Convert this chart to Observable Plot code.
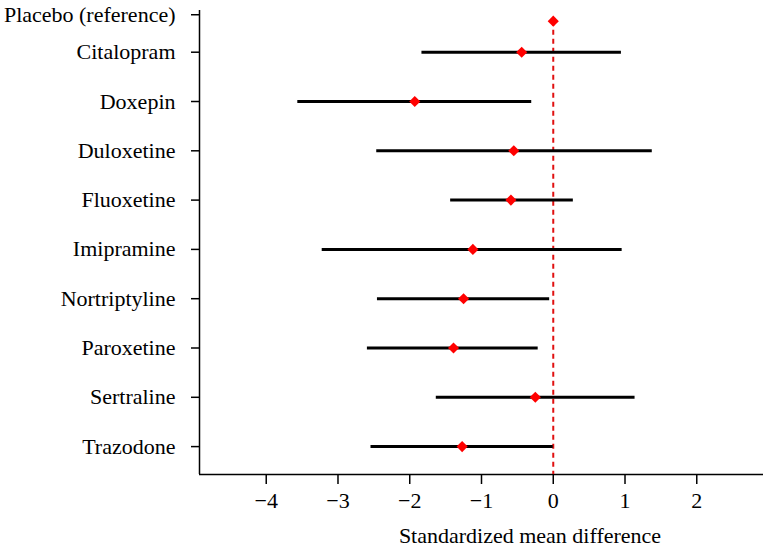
<!DOCTYPE html>
<html>
<head>
<meta charset="utf-8">
<script src="https://cdn.jsdelivr.net/npm/d3@7"></script>
<script src="https://cdn.jsdelivr.net/npm/@observablehq/plot@0.6"></script>
<style>
  html, body { margin: 0; padding: 0; background: #fff; }
</style>
</head>
<body>
<div id="chart"></div>
<script>
// ---- data ----
const treatments = ["Placebo (reference)", "Citalopram", "Doxepin", "Duloxetine", "Fluoxetine",
  "Imipramine", "Nortriptyline", "Paroxetine", "Sertraline", "Trazodone"];
const smd   = [0, -0.44, -1.93, -0.55, -0.59, -1.12, -1.25, -1.39, -0.25, -1.27];
const lower = [null, -1.83, -3.56, -2.46, -1.43, -3.22, -2.45, -2.59, -1.63, -2.54];
const upper = [null, 0.95, -0.30, 1.38, 0.28, 0.96, -0.05, -0.21, 1.14, 0.00];
const xTicks = [-4, -3, -2, -1, 0, 1, 2];
const xLabel = "Standardized mean difference";

// ---- layout ----
const W = 767, H = 552;
const mL = 199, mT = 10, mB = 78, mR = 4;
const FS = 22;
const xDomain = [-4.93, 2.93];
const yDomain = [0.154, 9.566];
const placeboRow = 0.37;     // placebo row sits closer to the first drug
const placeboTick = 0.24;

const rows = treatments.map((t, i) => ({
  name: t,
  pos: i === 0 ? placeboRow : i,
  smd: smd[i], lo: lower[i], hi: upper[i]
}));
const ciRows = rows.filter(d => d.lo != null);
const yTickPos = treatments.map((t, i) => i === 0 ? placeboTick : i);
const yTickName = new Map(yTickPos.map((p, i) => [p, treatments[i]]));

const chart = Plot.plot({
  width: W, height: H,
  marginLeft: mL, marginTop: mT, marginBottom: mB, marginRight: mR,
  style: { fontFamily: "'Liberation Serif', 'Times New Roman', serif", fontSize: FS + "px", color: "black", background: "white" },
  x: { domain: xDomain },
  y: { domain: yDomain, range: [mT, H - mB] },
  marks: [
    Plot.axisX({ ticks: xTicks, tickSize: 10, tickPadding: 8, label: null, strokeWidth: 1.5, fontSize: FS }),
    Plot.axisY({ ticks: yTickPos, tickFormat: d => yTickName.get(d), tickSize: 8, tickPadding: 16, label: null, strokeWidth: 1.5, fontSize: FS }),
    Plot.ruleX([xDomain[0]], { y1: yDomain[0], y2: yDomain[1], stroke: "black", strokeWidth: 1.5 }),
    Plot.ruleY([yDomain[1]], { stroke: "black", strokeWidth: 1.5 }),
    Plot.ruleX([0], { y1: placeboRow, y2: yDomain[1], stroke: "#e01010", strokeWidth: 2, strokeDasharray: "5,4" }),
    Plot.ruleY(ciRows, { y: "pos", x1: "lo", x2: "hi", stroke: "black", strokeWidth: 3 }),
    Plot.dot(rows, { x: "smd", y: "pos", symbol: "diamond2", fill: "red", stroke: "none", r: 5 }),
    Plot.text([xLabel], { frameAnchor: "bottom", dx: 48.5, dy: 68, fontSize: FS, fill: "black" })
  ]
});
document.getElementById("chart").appendChild(chart);
</script>
</body>
</html>
